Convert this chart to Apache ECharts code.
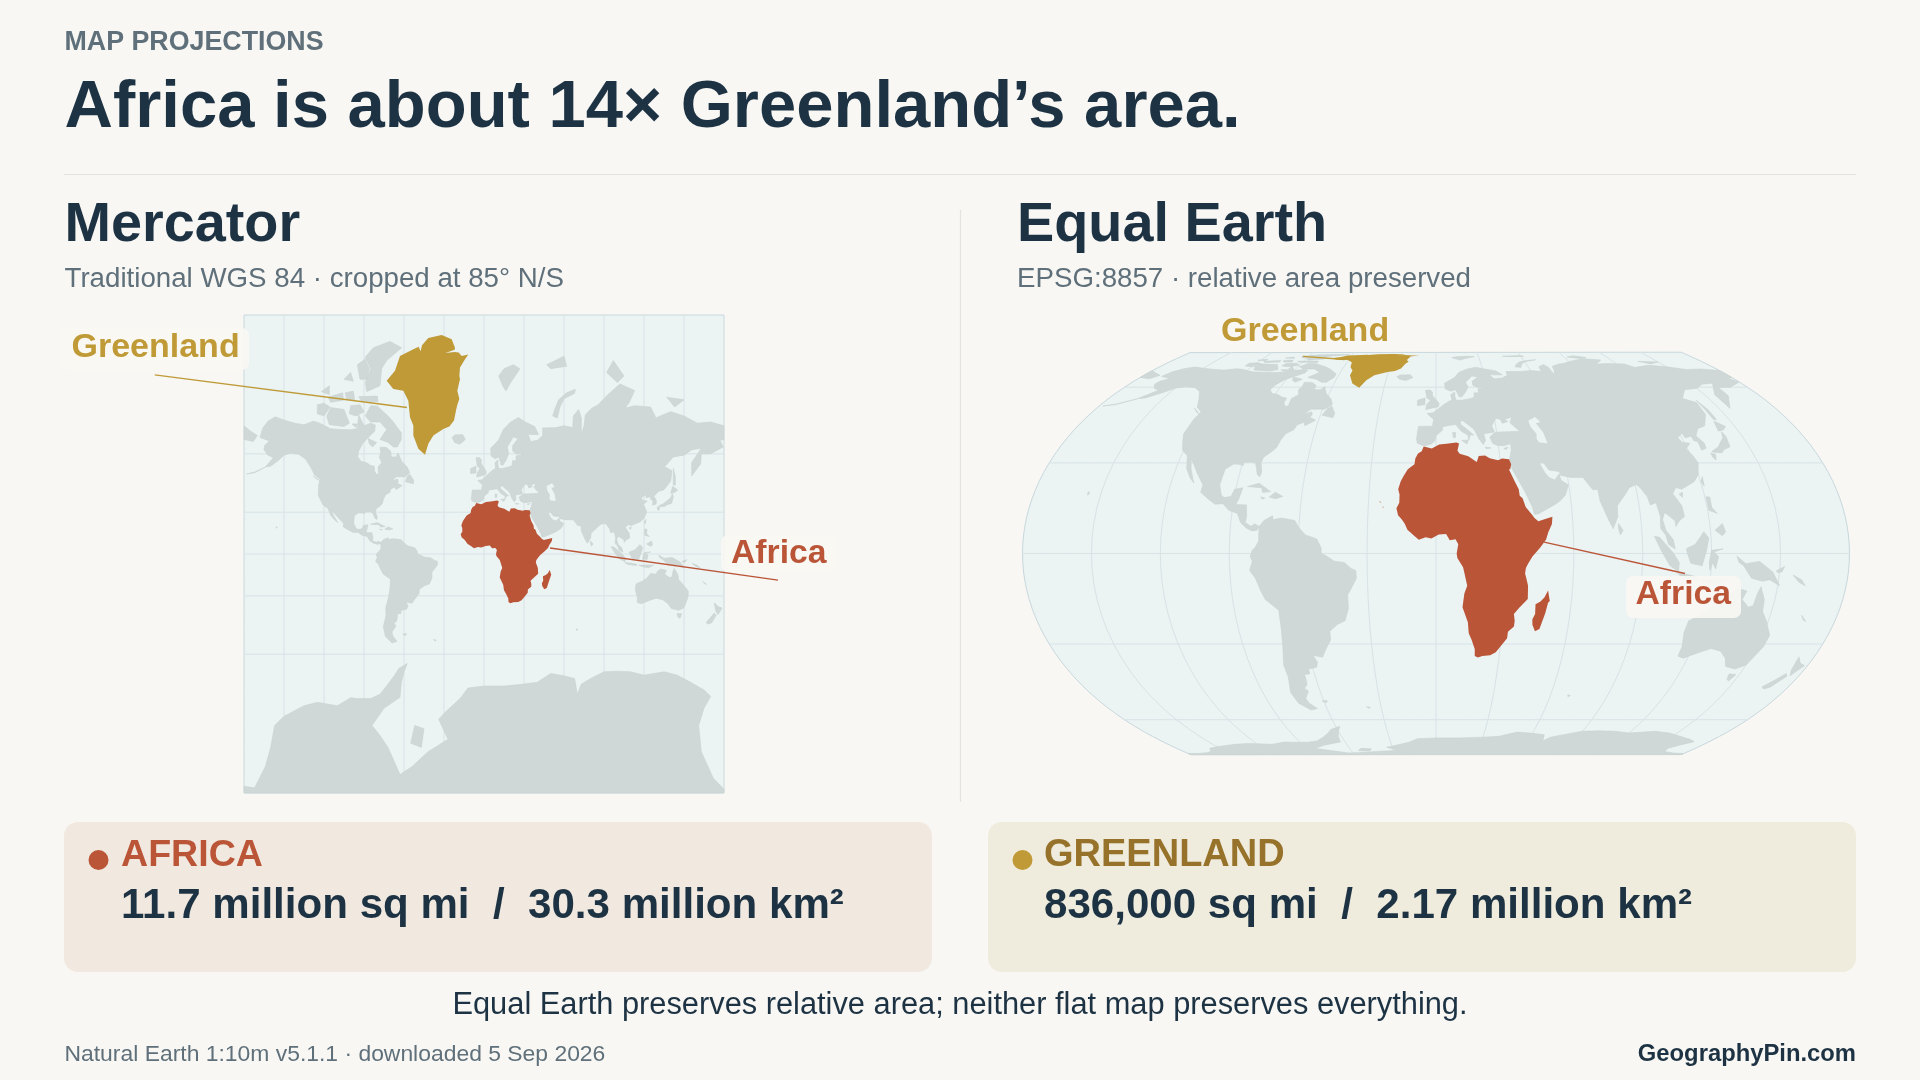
<!DOCTYPE html>
<html><head><meta charset="utf-8"><title>Map projections</title>
<style>html,body{margin:0;padding:0;background:#f8f7f3}#c{width:1920px;height:1080px}</style>
<script src="https://cdn.jsdelivr.net/npm/echarts@6/dist/echarts.min.js"></script></head>
<body><div id="c"></div><script>
// ---- geography, as longitude / latitude ----
const africaMain=[[-5.9,35.8],[-2,35.1],[1.5,36.5],[5,36.8],[9.8,37.3],[11.1,36.9],[10.2,34.3],[11.2,33.2],[15.2,32.3],[19,30.3],[20.1,32.4],[23.1,32.6],[25.2,31.6],[29,30.9],[31,31.5],[34.2,31.3],[34.9,29.5],[34.2,27.8],[33.6,27.8],[35.5,24],[37.2,21],[37.4,18.8],[38.6,18],[39.7,15.1],[42.4,12.5],[43.3,11.5],[44.9,10.4],[48,11.2],[51.2,11.9],[50.8,9.5],[49,6.8],[48,4.5],[45.5,2],[42,-1],[40.1,-3.3],[39.2,-4.7],[38.9,-6.5],[39.5,-8],[40.4,-10.5],[40.6,-14.8],[36.9,-17.9],[34.9,-19.8],[35.5,-22],[35.4,-24],[32.9,-25.8],[32.8,-28],[31,-29.9],[28.2,-32.9],[25.7,-34],[22,-34.2],[20,-34.8],[18.4,-34.2],[18.2,-31.8],[16.5,-28.6],[15,-26.3],[14.4,-22.5],[11.8,-17.5],[12.5,-13],[13.7,-10.5],[12.3,-6],[11.8,-4.5],[9.3,-1.5],[9,0],[9.7,3],[8.5,4.6],[6,4.3],[4.4,6.3],[1.2,6.1],[-2,4.8],[-4.5,5.2],[-7.5,4.4],[-9.3,5.6],[-12.5,7.7],[-13.7,9.6],[-15,11],[-16.7,12.4],[-17.5,14.7],[-16.3,16.5],[-16.3,19.2],[-17,21],[-16,23.7],[-14.8,25.5],[-13,27.8],[-10,29.5],[-9.7,31.5],[-8.5,33.3],[-6.8,34.1]];
const madagascar=[[49.3,-12],[50.4,-15.5],[49.7,-16],[48.9,-19.5],[47.1,-24.8],[45.2,-25.6],[43.7,-23.4],[43.4,-21.5],[44.4,-19.8],[44.2,-16.5],[46.3,-15.6],[47.9,-14.3]];
const capeVerde=[[-25.2,17.1],[-24.2,16.6],[-24.9,16.7]];
const capeVerdeSouth=[[-23.7,15.3],[-23,15],[-23.5,14.9]];
const bioko=[[8.5,3.8],[8.9,3.5],[8.5,3.3]];
const saoTome=[[6.5,0.4],[6.8,0.1],[6.5,0]];
const comoros=[[43.2,-11.4],[43.6,-12],[43.3,-12]];
const greenlandMain=[[-31.75,83.56],[-24.25,83.2],[-21.75,82.4],[-22,82.2],[-29,81.85],[-22,81.95],[-19,81.9],[-16.75,81.54],[-11.75,81.7],[-14.25,81.16],[-18,80.16],[-18.5,79],[-18,78.54],[-20,76.66],[-18.5,75.14],[-20,74],[-21,72.74],[-22.5,70.36],[-26,68.8],[-30.5,68.14],[-38,66.22],[-41.75,63.56],[-44.25,59.68],[-49.25,61.86],[-53,66.22],[-53,69.06],[-55.5,71.16],[-56.75,74.82],[-60.5,76.66],[-68,76.94],[-73,78.28],[-66.75,79.72],[-63,81.54],[-53,82.24],[-49,82.5],[-47.5,82.05],[-46.5,82.65],[-41.75,83.3]];
const northAmerica=[[-168,65.6],[-166,68.3],[-162,70.2],[-156.6,71.3],[-150,70.5],[-141,69.6],[-135,69.3],[-128,70.2],[-124,69.8],[-115,68.2],[-108,68],[-100,67.9],[-95,68.2],[-94,71.8],[-90,69],[-85,69.7],[-81.5,69.2],[-82,67.5],[-87,65.5],[-91,63.7],[-94,61],[-94.7,58.8],[-92,57],[-88,56.5],[-85,55.3],[-82.3,55],[-82.2,52.9],[-80.5,51.3],[-79,51.6],[-79.5,54.7],[-76.7,56.5],[-78.5,58.7],[-77.5,60.5],[-78,62.4],[-73.5,62.4],[-70,61],[-69.5,58.8],[-66,58.8],[-64.5,60.3],[-61.5,56.9],[-57.5,54.5],[-55.7,52.2],[-59,50.2],[-66,50.2],[-69,48],[-65,49.1],[-64.3,48],[-65,46.9],[-61.5,45.7],[-64,44.5],[-66,43.6],[-67,45],[-70,43.8],[-70.7,42],[-74,40.6],[-75.5,38],[-76.2,35.5],[-78,33.9],[-81,32],[-81.4,30],[-80,26.8],[-80.4,25.2],[-81.8,26],[-82.8,28],[-84,30],[-86,30.3],[-89.5,30.2],[-89.3,29.1],[-91.5,29.5],[-94,29.6],[-97.2,27.8],[-97.7,22.5],[-96,19],[-94.5,18.2],[-91.5,18.6],[-90.5,21],[-87,21.5],[-87.8,18],[-88.8,15.9],[-84,15.8],[-83.3,12],[-83.7,10],[-81,8.8],[-79.5,9.6],[-77.4,8.7],[-78.2,7.5],[-80.4,7.3],[-83,8.2],[-85.7,10],[-87.5,13],[-91.5,14],[-94.5,16.2],[-98,16],[-102,18],[-105.5,20],[-105.3,22.5],[-109,26],[-112.5,29.5],[-114.7,31.5],[-113,28],[-110.5,24.3],[-109.5,23],[-112,24.8],[-115,28],[-117.1,32.5],[-120.6,34.5],[-122.5,37.5],[-124.3,40.4],[-124,46],[-123,49],[-127,51],[-130,54.5],[-134,58],[-139,59.8],[-145,60.3],[-150,59.5],[-154,57.5],[-160,55],[-164,54.7],[-158,58.5],[-162,59.5],[-165,61.5],[-164.5,63],[-161,64.5]];
const aleutians=[[-164,54.6],[-172,52.4],[-178,51.5],[-172,52.1]];
const baffin=[[-80,73.7],[-72,71.5],[-68,70],[-62,67],[-62,65],[-65,62.5],[-68,62.5],[-72,64],[-78,65],[-73,68],[-78,70],[-85,70],[-89,71.5],[-85,73.8]];
const victoriaIsland=[[-116,69.3],[-105,68.8],[-101,69.7],[-105,73],[-115,73.4],[-118,71.5]];
const banksIsland=[[-125,72],[-120,71.5],[-115.5,73.5],[-120,74.3],[-125,74]];
const ellesmere=[[-89,81.4],[-83,82.4],[-70.5,83],[-61.75,82.4],[-73,81],[-76.75,80],[-78,77.5],[-88,76.5],[-89,78],[-85,80]];
const devonIsland=[[-94,75.6],[-80,75.7],[-79.5,74.6],[-92,74.7]];
const axelHeiberg=[[-95,80.5],[-89,81.2],[-86,80],[-88,78.5],[-93,78.5]];
const melvilleIsland=[[-117,75.5],[-106,76.3],[-105.5,74.9],[-115,74.5]];
const somersetIsland=[[-100,73.8],[-93,74],[-90,72.5],[-96,71.5],[-101,72]];
const southampton=[[-87,65.3],[-80.5,64],[-83.5,62.5],[-86,63.5]];
const ellefRingnes=[[-105,78.5],[-100,79.5],[-98,78.2]];
const bathurst=[[-104,76.3],[-98,76.6],[-97,75],[-103,75]];
const princePatrick=[[-122,76.5],[-116,77.5],[-116,76]];
const kingWilliam=[[-99,69.5],[-95,69.5],[-96,68.5]];
const newfoundland=[[-59,47.7],[-53,46.7],[-52.8,48.5],[-55.7,51.5],[-57.5,50.5]];
const vancouverIsland=[[-128.3,50.7],[-123.5,48.4],[-125,48.8]];
const cuba=[[-85,21.9],[-80,23],[-74.2,20.2],[-77.7,19.9],[-78.5,21.5]];
const hispaniola=[[-74.4,18.4],[-72,20],[-68.4,18.6],[-71.5,17.8]];
const jamaica=[[-78.3,18.4],[-76.3,18.1],[-77.3,17.7]];
const hawaii=[[-156,20.2],[-155,19.7],[-155.8,19]];
const southAmerica=[[-77.4,8.7],[-75.5,10.7],[-72,12.2],[-71.5,10.9],[-68,11.5],[-62,10.7],[-60,8.3],[-57,6],[-52,4.7],[-50,1.8],[-50,0],[-48,-0.7],[-44.3,-2.5],[-40,-2.9],[-37,-4.9],[-35,-5.5],[-34.8,-8],[-37,-11],[-39,-13.5],[-39,-17.8],[-41,-22],[-44.7,-23.3],[-48.5,-25.6],[-48.7,-28.5],[-52,-32.2],[-54,-34.7],[-58.4,-34],[-57,-36.5],[-58,-38.3],[-62.2,-39],[-62.3,-40.8],[-65,-41],[-65,-43],[-65.5,-45],[-67.5,-46.3],[-66,-47.5],[-69,-50.5],[-68.3,-52.5],[-65.2,-54.8],[-69,-55.5],[-74,-52.5],[-75.5,-48],[-73.5,-42],[-73.7,-37.5],[-71.6,-31],[-70.5,-25],[-70.2,-18.5],[-75.5,-15],[-77.2,-12],[-79,-8],[-81.3,-5.5],[-80,-2.5],[-80.9,-1],[-80,1],[-78.7,2],[-77.3,4],[-77.4,7]];
const falklands=[[-61,-51.5],[-58,-51.4],[-59,-52.3]];
const southGeorgia=[[-38,-54],[-36,-54.2],[-36.5,-54.8]];
const eurasia=[[-9,37],[-9.5,38.7],[-8.8,43.3],[-1.8,43.4],[-1.2,46],[-4.7,48.4],[-1.5,48.7],[1.5,50.5],[4,52],[7,53.5],[8.7,54],[8.2,56.5],[10.5,57.7],[10.5,55.5],[11,54],[14,54],[18.5,54.7],[21,55.2],[21.5,57.4],[24,57.2],[24,59.2],[28,59.6],[30,60],[24,60],[21.5,61],[21.5,63],[25.5,65.2],[22,65.8],[17.5,62.5],[18.5,60],[16.5,57.5],[14.3,55.5],[12.8,55.5],[11.2,58.8],[8.2,58.1],[5.3,59.2],[5,62],[11,64.8],[14.5,68],[20,70],[25.8,71.1],[31,70],[38,68.8],[41,66.5],[35,66.5],[33,66.7],[35,64.3],[40,64.7],[44,66.2],[44,68.4],[54,68.5],[60,69],[66.5,68.5],[67,71.5],[71,73],[73,71],[73,66.5],[75,69],[76,71.8],[81,73.3],[85.6,74],[93,76],[102,77.8],[113,76.7],[109,74.5],[106,73.3],[113,73.8],[125,73.5],[129,71],[133,71.6],[140,72.5],[150,71.5],[160,69.7],[170,70],[180,69],[180,65],[177,64.7],[179.5,62.5],[170,60],[163,60],[162.5,56],[155.8,50.5],[155.7,56.5],[163,62],[156,61.5],[150,59.5],[142,58.8],[135.5,54.8],[141,53],[140,48],[135,43.5],[130.7,42.5],[127.5,39.8],[129.4,37],[129,35.2],[126.4,34.5],[126.7,37.5],[125,38],[125,39.6],[121.5,39],[121.5,40.8],[118,39],[119,37.3],[122.5,37],[119.3,35],[121,32.5],[122,30],[120,26],[117,23.5],[113.5,22.2],[110.5,21],[108,21.6],[106,19.5],[108.9,15.5],[109.3,12],[106.7,10.5],[105,8.7],[105,10.5],[102.5,12.2],[100.8,13.3],[99.5,11],[100.5,7.5],[103.4,4.5],[104.2,1.4],[101.3,2.9],[100.3,6],[98.3,8],[98.7,12],[97.7,16.5],[95,15.8],[94.3,18.5],[92,21.5],[90.5,22.6],[87,21.5],[85,19.6],[80.3,15.5],[80,12],[77.5,8],[76,10.5],[73,17],[72.7,21],[70.5,20.8],[69,22.5],[67,25],[61.5,25],[57,25.7],[56.5,27],[52,27.5],[50,30],[48,30],[50,26.5],[51.5,25],[54,24.1],[56.4,26.2],[56.8,24],[59.8,22.4],[57.8,19],[55,17],[52,15.6],[45,12.8],[43.3,12.7],[42.7,15],[40,20],[37.2,24.5],[35,28],[34.9,29.5],[34.4,31.3],[35.8,34.5],[36,36.8],[32.5,36.1],[29.5,36.2],[27.3,37],[26.3,39.3],[29,41],[31.5,41.2],[36,41.3],[41.5,41.5],[37.5,44.7],[39,47],[35,46],[36.5,45.2],[33.5,44.5],[33,46],[30.7,46.5],[28,43.5],[28.9,41.2],[26,40.8],[23.5,40.5],[24,38],[22.8,36.5],[21,38.5],[19.4,41.5],[18.5,42.5],[13.7,45.5],[12.3,45.4],[12.5,44],[16,41.8],[18.5,40],[16.7,40],[16,38],[15.7,40],[12.5,41.5],[10,44],[7.5,43.8],[3.3,43.2],[3.2,41.8],[0,39.8],[-0.5,38],[-2,36.8],[-5.5,36]];
const chukotkaEast=[[-180,69],[-175,67.5],[-170,66.2],[-173,64.3],[-180,65]];
const britain=[[-5.5,50],[1.3,51.2],[1.7,52.7],[-2,56],[-2,57.7],[-3.3,58.6],[-6,58.5],[-5,55],[-3,54],[-5,52]];
const ireland=[[-10,51.7],[-6,52],[-6,55],[-10,54]];
const iceland=[[-24,65.5],[-22,64],[-18,63.4],[-14,65],[-16,66.5],[-22,66.4]];
const svalbard=[[11,79],[15,80],[22,80.5],[27,80],[20,78],[16.5,76.6],[14,77.5]];
const franzJosef=[[47,80.5],[60,81.5],[62,80.3],[50,80]];
const novayaZemlya=[[51.5,71.5],[53,73],[56,75],[62,76.3],[68.5,76.9],[68,76.2],[60,75.2],[57,73.5],[55,71]];
const severnaya=[[92,79.5],[97,81],[105,79],[100,78]];
const newSiberian=[[137,75.5],[150,75],[143,73.5]];
const sakhalin=[[142,54],[143.5,50],[143.5,46],[142,46],[142,50]];
const honshu=[[130.9,34],[135,35.6],[137,37],[140,39],[141.3,41.3],[142,39.5],[140.8,35.7],[137,34.6],[135.5,33.6],[132,33.7]];
const hokkaido=[[140,41.5],[141.5,45.4],[145.3,43.3],[143,42]];
const kyushu=[[130,33.5],[132,33],[131,31],[130,32]];
const sicily=[[12.5,38],[15.6,38.2],[15,36.7]];
const sardinia=[[8.2,41],[9.7,41],[9.5,39.1],[8.5,39]];
const crete=[[23.6,35.6],[26.3,35.3],[24,35]];
const cyprus=[[32.3,35.1],[34.5,35.6],[33.5,34.7]];
const sriLanka=[[80,9.7],[81.8,7.5],[80.5,6],[79.8,8]];
const taiwan=[[121.5,25.2],[121,22],[120.1,23.5]];
const hainan=[[108.7,19.3],[110.5,20],[110,18.3]];
const luzon=[[120.5,18.5],[122.2,18.4],[122,15],[124,13],[120.5,14]];
const mindanao=[[122,7.5],[125.5,9.7],[126.5,7],[125,5.7]];
const borneo=[[109,1.5],[113,3],[117,7],[119,5],[117.8,1],[116,-4],[111,-3.2],[109.5,0]];
const sumatra=[[95.3,5.6],[97.5,5.2],[103.5,0],[106,-3],[105.8,-5.8],[102,-4],[98,1]];
const java=[[105.5,-6.5],[110,-6.8],[114.5,-7.7],[114.4,-8.7],[108,-7.8]];
const sulawesi=[[119.5,-5.5],[119,-3],[120,1],[125,1.5],[121,0.5],[123,-1],[122,-5],[120.5,-3]];
const newGuinea=[[131,-0.8],[135,-3.3],[141,-2.6],[147,-6],[150.8,-10.5],[146,-8.5],[143,-9],[138,-8],[134,-3.9],[132,-2.9]];
const timor=[[116,-8.4],[123,-8.3],[127,-8.4],[123.5,-10.3],[119,-9.5]];
const newBritain=[[148.5,-5.6],[152,-4.2],[151,-6],[149,-6.2]];
const solomons=[[156,-7],[160,-8.5],[162,-10.5],[159,-9.3]];
const newCaledonia=[[164,-20.2],[167,-22.3],[165.5,-21.8]];
const australia=[[114,-22],[113.5,-26],[115,-31],[115,-34.3],[118,-35],[124,-33],[129,-31.6],[134,-32.5],[138,-35],[140.5,-38],[146,-39],[150,-37.5],[153,-31],[153.3,-27],[149,-22],[146,-19],[145.3,-15],[142.7,-10.8],[141.7,-13],[141,-17],[139,-17.5],[135.5,-15],[136.8,-12.2],[132.5,-11.3],[130,-13],[129,-15],[125,-14.5],[122,-18],[119,-20]];
const tasmania=[[144.7,-40.8],[148.3,-41],[147,-43.5],[145.5,-42.8]];
const newZealandNorth=[[172.7,-34.5],[175.5,-36.8],[178.5,-37.7],[175.5,-41.5],[173.8,-39.3]];
const newZealandSouth=[[172.7,-40.6],[174.2,-41.7],[170.8,-45.9],[168.3,-46.6],[166.5,-45.8],[170,-43]];
const kerguelen=[[69,-49],[70.5,-49.3],[69.5,-49.8]];
const antarctica=[[-180,-84.6],[-172,-84.7],[-164,-83],[-160,-81],[-157,-78],[-150,-76.5],[-135,-74.5],[-125,-73.8],[-110,-74.5],[-100,-72.8],[-95,-73],[-85,-73],[-78,-72],[-72,-69.5],[-67,-67],[-64,-65],[-57.5,-63.3],[-60,-66],[-62,-69],[-63,-72.7],[-75,-75],[-84,-78],[-78,-79.5],[-72,-81],[-63,-83.7],[-54,-83],[-42,-81.5],[-27,-80],[-34,-77],[-28,-75.5],[-18,-73],[-12,-70.5],[0,-70],[15,-70],[30,-69.5],[40,-69],[50,-66.5],[60,-67.2],[68,-68],[70,-72],[73,-69.5],[80,-68],[90,-66],[100,-65.8],[110,-66],[120,-67],[135,-66],[145,-67],[155,-69],[165,-71],[170,-72.5],[165,-75],[161,-78],[163,-81.5],[172,-84],[180,-84.8],[180,-90],[-180,-90]];
const berkner=[[-52,-78],[-45,-78.5],[-47,-81],[-55,-80.5]];
const caspian=[[47,45.5],[51,47],[53,45],[50.5,44.5],[53,41],[53.8,37],[50,37.3],[49,38.5],[49.5,40.5],[47.5,43]];
const otherLand=[northAmerica,aleutians,baffin,victoriaIsland,banksIsland,ellesmere,devonIsland,axelHeiberg,melvilleIsland,somersetIsland,southampton,ellefRingnes,bathurst,princePatrick,kingWilliam,newfoundland,vancouverIsland,cuba,hispaniola,jamaica,hawaii,southAmerica,falklands,southGeorgia,eurasia,chukotkaEast,britain,ireland,iceland,svalbard,franzJosef,novayaZemlya,severnaya,newSiberian,sakhalin,honshu,hokkaido,kyushu,sicily,sardinia,crete,cyprus,sriLanka,taiwan,hainan,luzon,mindanao,borneo,sumatra,java,sulawesi,newGuinea,timor,newBritain,solomons,newCaledonia,australia,tasmania,newZealandNorth,newZealandSouth,kerguelen,antarctica,berkner];
const africaParts=[africaMain,madagascar,capeVerde,capeVerdeSouth,bioko,saoTome,comoros];
const greenlandParts=[greenlandMain];
// ---- graticule and leader ends ----
const graticuleLons=[-150,-120,-90,-60,-30,0,30,60,90,120,150];
const graticuleLats=[-60,-30,0,30,60];
const mercatorGreenlandLeader=[[-246.9,79.16],[-57.8,73.4]];
const mercatorAfricaLeader=[[49.5,4.5],[220.5,-19.3]];
const equalEarthGreenlandLeader=[[-94,80.3],[-62.9,77.1]];
const equalEarthAfricaLeader=[[47.1,3.65],[108.7,-6.47]];

// ---- projections ----
const DEG=Math.PI/180, MAXLAT=85.0511, MERC_Y=478/480;
const mercator={
  project:p=>{const la=Math.max(-MAXLAT,Math.min(MAXLAT,p[1]));return [p[0]*DEG,-MERC_Y*Math.log(Math.tan(Math.PI/4+la*DEG/2))];},
  unproject:p=>[p[0]/DEG,(2*Math.atan(Math.exp(-p[1]/MERC_Y))-Math.PI/2)/DEG]
};
const A1=1.340264,A2=-0.081106,A3=0.000893,A4=0.003796,M=Math.sqrt(3)/2;
const equalEarth={
  project:p=>{const t=Math.asin(M*Math.sin(p[1]*DEG)),t2=t*t,t6=t2*t2*t2;
    return [p[0]*DEG*Math.cos(t)/(M*(A1+3*A2*t2+t6*(7*A3+9*A4*t2))),-t*(A1+A2*t2+t6*(A3+A4*t2))];},
  unproject:q=>{let t=-q[1];for(let i=0;i<12;i++){const t2=t*t,t6=t2*t2*t2;
      t-=(t*(A1+A2*t2+t6*(A3+A4*t2))+q[1])/(A1+3*A2*t2+t6*(7*A3+9*A4*t2));}
    const t2=t*t,t6=t2*t2*t2;
    return [q[0]*M*(A1+3*A2*t2+t6*(7*A3+9*A4*t2))/Math.cos(t)/DEG,Math.asin(Math.sin(t)/M)/DEG];}
};

// ---- map resources ----
const latSteps=[];for(let a=-90;a<=90;a+=3)latSteps.push(a);
const sphereRing=[...latSteps.map(a=>[-180,a]),...latSteps.slice().reverse().map(a=>[180,a])];
const closeRing=r=>[...r,r[0]];
const feat=(name,rings)=>({type:'Feature',properties:{name},geometry:{type:'MultiPolygon',coordinates:rings.map(r=>[closeRing(r)])}});
const sphereFeature=feat('sphere',[sphereRing]);
echarts.registerMap('sphereOnly',{type:'FeatureCollection',features:[sphereFeature]});
echarts.registerMap('world',{type:'FeatureCollection',features:[sphereFeature,feat('land',otherLand),feat('lake',[caspian]),feat('africa',africaParts),feat('greenland',greenlandParts)]});

const INK='#1d3344',GREY='#5f707b',RED='#bb5538',GOLD='#bf9a36',OCEAN='#ebf3f3',LAND='#cfd8d6',SHORE='#c4d0cf',GRID='#d8e3e6',FRAME='#c8d8dd',RULE='#e4e4df';
const FONT='"Liberation Sans",Arial,sans-serif';
const baseGeo=(proj,box)=>({map:'sphereOnly',projection:proj,...box,roam:false,silent:true,z:0,
  label:{show:false},emphasis:{disabled:true},select:{disabled:true},
  itemStyle:{areaColor:OCEAN,borderColor:FRAME,borderWidth:1}});
const landGeo=(proj,box)=>({map:'world',projection:proj,...box,roam:false,silent:true,z:3,
  label:{show:false},emphasis:{disabled:true},select:{disabled:true},
  itemStyle:{areaColor:LAND,borderWidth:0,borderColor:'transparent'},
  regions:[{name:'sphere',itemStyle:{areaColor:'transparent',borderWidth:0}},
    {name:'land',itemStyle:{areaColor:LAND,borderColor:SHORE,borderWidth:0.5}},{name:'lake',itemStyle:{areaColor:OCEAN}},
    {name:'africa',itemStyle:{areaColor:RED}},{name:'greenland',itemStyle:{areaColor:GOLD}}]});
const mercBox={left:244,top:315,width:480,height:478};
const eeBox={left:1022.5,top:352.2,width:827,height:402.5};

const graticule=(geoIndex)=>{
  const lats=[];for(let a=-90;a<=90;a+=5)lats.push(a);
  const lons=[];for(let o=-180;o<=180;o+=10)lons.push(o);
  const data=[...graticuleLons.map(o=>({coords:lats.map(a=>[o,a])})),...graticuleLats.map(a=>({coords:lons.map(o=>[o,a])}))];
  return {type:'lines',coordinateSystem:'geo',geoIndex,polyline:true,silent:true,z:1,data,lineStyle:{color:GRID,width:1,opacity:1}};
};
const leader=(geoIndex,coords,color)=>({type:'lines',coordinateSystem:'geo',geoIndex,polyline:true,silent:true,z:5,
  data:[{coords}],lineStyle:{color,width:1.4,opacity:1}});

const txt=(x,base,text,size,color,weight,align)=>({type:'text',x,y:base-0.28*size,silent:true,z:10,
  style:{text,fill:color,font:`${weight||'normal'} ${size}px ${FONT}`,textAlign:align||'left',textVerticalAlign:'middle'}});
const box=(x,y,w,h,fill,r,op)=>({type:'rect',silent:true,z:10,shape:{x,y,width:w,height:h,r},style:{fill,opacity:op==null?1:op}});
const rule=(x1,y1,x2,y2,color)=>({type:'line',silent:true,z:10,shape:{x1,y1,x2,y2},style:{stroke:color,lineWidth:1.2}});

const elements=[
  txt(64.5,50,'MAP PROJECTIONS',26.8,GREY,'bold'),
  txt(64.5,127,'Africa is about 14× Greenland’s area.',67,INK,'bold'),
  rule(64,174.5,1856,174.5,RULE),
  rule(960.5,210,960.5,802,RULE),
  txt(64.5,241.5,'Mercator',55.8,INK,'bold'),
  txt(64.5,287,'Traditional WGS 84 · cropped at 85° N/S',27.7,GREY),
  txt(1017,241.5,'Equal Earth',55.8,INK,'bold'),
  txt(1017,287,'EPSG:8857 · relative area preserved',27.7,GREY),
  box(60,328,189,42,'#f8f7f3',7,.92),
  txt(71.5,356.7,'Greenland',34,GOLD,'bold'),
  box(721,535,115,37,'#f8f7f3',7,.92),
  txt(731,562.7,'Africa',33.7,RED,'bold'),
  box(1210,312,188,40,'#f8f7f3',7,1),
  txt(1221,340.7,'Greenland',34,GOLD,'bold'),
  box(1626,576,115,42,'#f8f7f3',7,.92),
  txt(1635.5,604,'Africa',33.7,RED,'bold'),
  box(64,822,868,150,'#f1e9e0',14),
  box(988,822,868,150,'#efecdd',14),
  {type:'circle',silent:true,z:10,shape:{cx:98.5,cy:860,r:10},style:{fill:RED}},
  {type:'circle',silent:true,z:10,shape:{cx:1022.5,cy:860,r:10},style:{fill:GOLD}},
  txt(121,866.5,'AFRICA',37.6,RED,'bold'),
  txt(121,918,'11.7 million sq mi  /  30.3 million km²',42.1,INK,'bold'),
  txt(1044,866.5,'GREENLAND',38,'#97722a','bold'),
  txt(1044,918,'836,000 sq mi  /  2.17 million km²',42.1,INK,'bold'),
  txt(960,1014,'Equal Earth preserves relative area; neither flat map preserves everything.',30.8,INK,'normal','center'),
  txt(64.5,1061,'Natural Earth 1:10m v5.1.1 · downloaded 5 Sep 2026',22.9,GREY),
  txt(1856,1061,'GeographyPin.com',23.8,INK,'bold','right')
];

const chart=echarts.init(document.getElementById('c'),null,{renderer:'canvas',width:1920,height:1080});
chart.setOption({
  animation:false,backgroundColor:'#f8f7f3',
  geo:[baseGeo(mercator,mercBox),landGeo(mercator,mercBox),baseGeo(equalEarth,eeBox),landGeo(equalEarth,eeBox)],
  series:[graticule(0),graticule(2),
    leader(1,mercatorGreenlandLeader,GOLD),leader(1,mercatorAfricaLeader,RED),
    leader(3,equalEarthGreenlandLeader,GOLD),leader(3,equalEarthAfricaLeader,RED)],
  graphic:{elements}
});
</script></body></html>
